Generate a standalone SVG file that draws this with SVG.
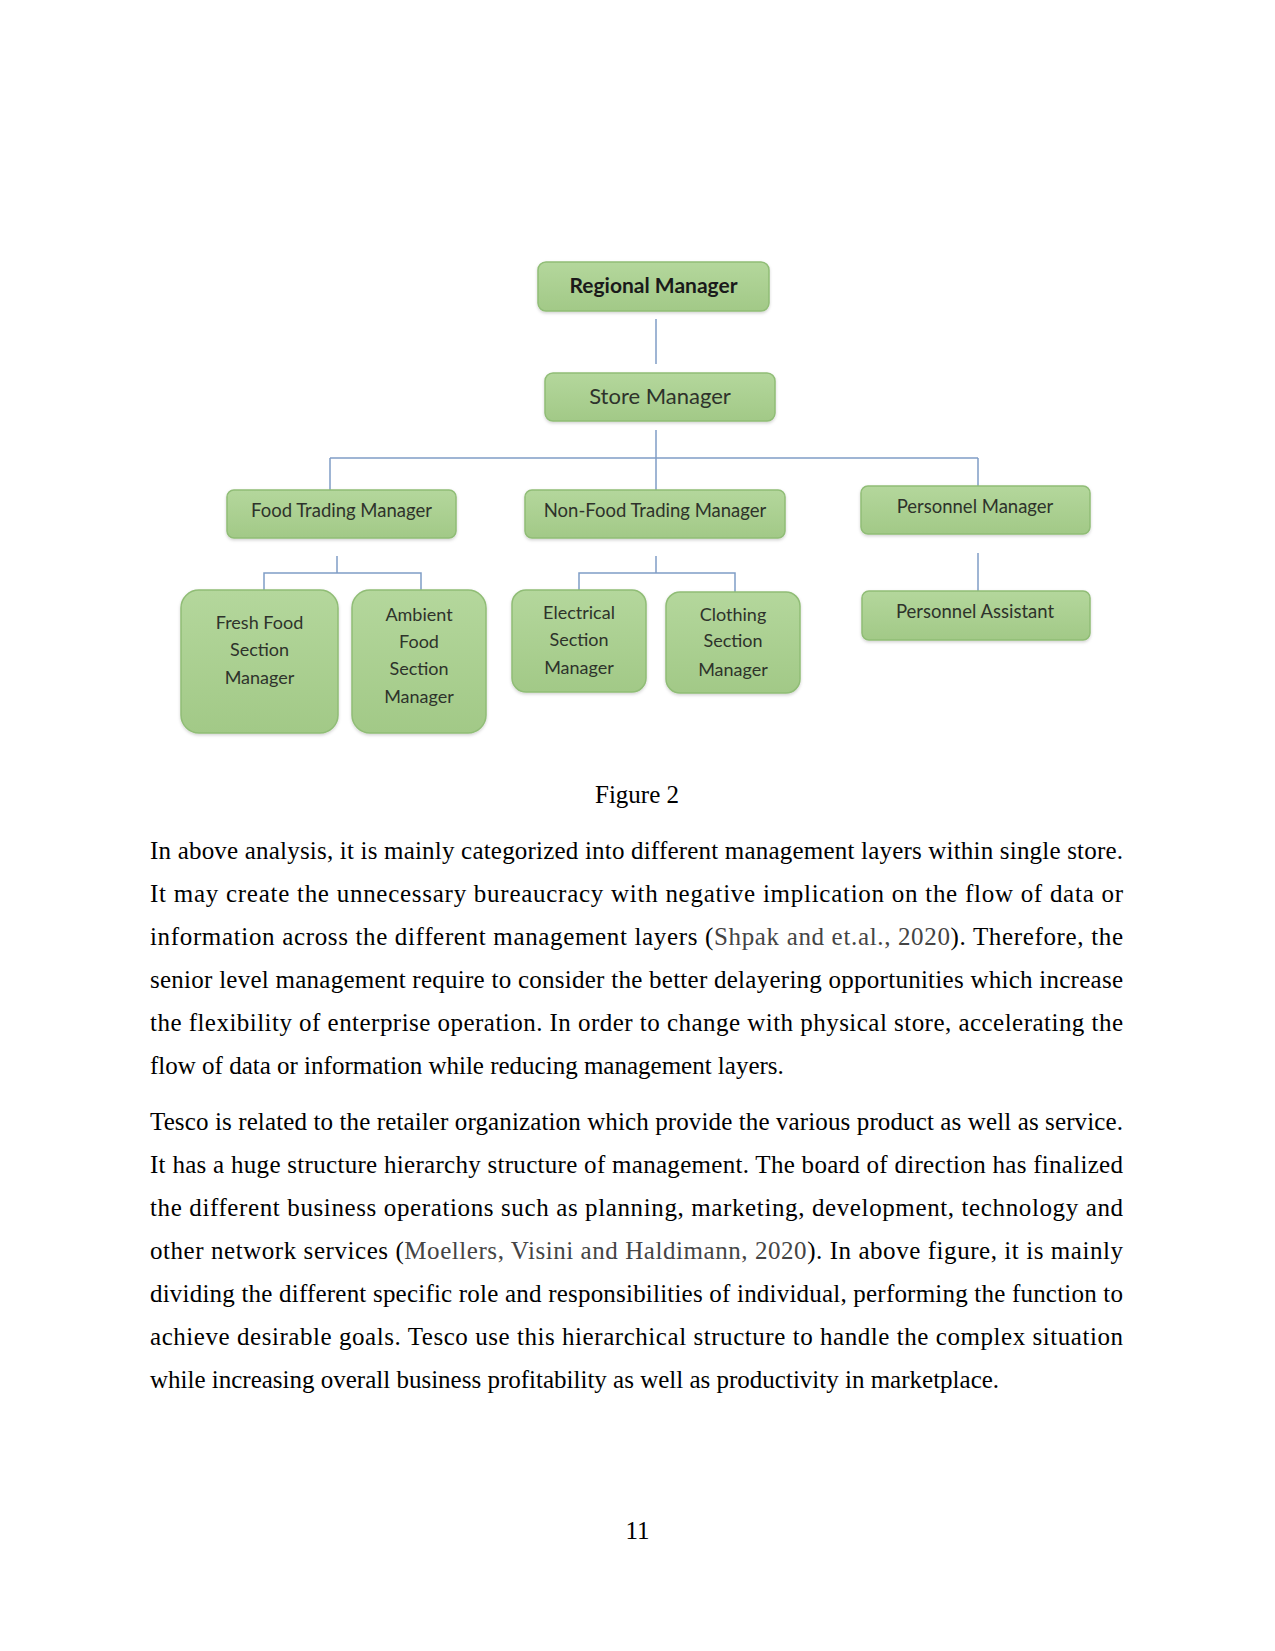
<svg xmlns="http://www.w3.org/2000/svg" width="1275" height="1651" viewBox="0 0 1275 1651">
<defs>
<linearGradient id="g" x1="0" y1="0" x2="0" y2="1">
<stop offset="0" stop-color="#b4d79c"/>
<stop offset="1" stop-color="#a2c987"/>
</linearGradient>
<filter id="sh" x="-10%" y="-10%" width="120%" height="130%">
<feDropShadow dx="0" dy="1.5" stdDeviation="1.5" flood-color="#000" flood-opacity="0.18"/>
</filter>
</defs>
<style>
.box{fill:url(#g);stroke:#90bd76;stroke-width:1.5;filter:url(#sh)}
.lbl{font-family:Lato,"Open Sans",sans-serif;font-size:18px;fill:#2e332b;text-anchor:middle}
.b{font-weight:bold;fill:#1a1a1a;font-size:21px}
.l2{font-size:18.5px}
.sm{font-size:22px}
.con{stroke:#7f9dc6;stroke-width:1.5;fill:none}
.body{font-family:"Liberation Serif","Times New Roman",serif;font-size:25px;fill:#000}
.cite{fill:#444}
</style>
<rect width="1275" height="1651" fill="#fff"/>
<g id="connectors">
<line class="con" x1="656" y1="319" x2="656" y2="364"/>
<line class="con" x1="656" y1="430" x2="656" y2="490"/>
<line class="con" x1="330" y1="458" x2="978" y2="458"/>
<line class="con" x1="330" y1="458" x2="330" y2="490"/>
<line class="con" x1="978" y1="458" x2="978" y2="486"/>
<polyline class="con" points="264,590 264,573 421,573 421,590"/>
<line class="con" x1="337" y1="556" x2="337" y2="573"/>
<polyline class="con" points="579,590 579,573 735,573 735,592"/>
<line class="con" x1="656" y1="556" x2="656" y2="573"/>
<line class="con" x1="978" y1="553" x2="978" y2="591"/>
</g>
<g id="regional-manager">
<rect class="box" x="538" y="262" width="231" height="49" rx="8"/>
<text class="lbl b" x="653.5" y="293">Regional Manager</text>
</g>
<g id="store-manager">
<rect class="box" x="545" y="373" width="230" height="48" rx="8"/>
<text class="lbl sm" x="660" y="404">Store Manager</text>
</g>
<g id="food-trading-manager">
<rect class="box" x="227" y="490" width="229" height="48" rx="7"/>
<text class="lbl l2" x="341.5" y="517">Food Trading Manager</text>
</g>
<g id="non-food-trading-manager">
<rect class="box" x="525" y="490" width="260" height="48" rx="7"/>
<text class="lbl l2" x="655" y="517">Non-Food Trading Manager</text>
</g>
<g id="personnel-manager">
<rect class="box" x="861" y="486" width="229" height="48" rx="7"/>
<text class="lbl l2" x="975" y="513">Personnel Manager</text>
</g>
<g id="fresh-food-section-manager">
<rect class="box" x="181" y="590" width="157" height="143" rx="18"/>
<text class="lbl" x="259.5" y="629">Fresh Food</text>
<text class="lbl" x="259.5" y="656">Section</text>
<text class="lbl" x="259.5" y="684">Manager</text>
</g>
<g id="ambient-food-section-manager">
<rect class="box" x="352" y="590" width="134" height="143" rx="18"/>
<text class="lbl" x="419" y="621">Ambient</text>
<text class="lbl" x="419" y="648">Food</text>
<text class="lbl" x="419" y="675">Section</text>
<text class="lbl" x="419" y="703">Manager</text>
</g>
<g id="electrical-section-manager">
<rect class="box" x="512" y="590" width="134" height="102" rx="14"/>
<text class="lbl" x="579" y="619">Electrical</text>
<text class="lbl" x="579" y="646">Section</text>
<text class="lbl" x="579" y="674">Manager</text>
</g>
<g id="clothing-section-manager">
<rect class="box" x="666" y="592" width="134" height="101" rx="14"/>
<text class="lbl" x="733" y="621">Clothing</text>
<text class="lbl" x="733" y="647">Section</text>
<text class="lbl" x="733" y="676">Manager</text>
</g>
<g id="personnel-assistant">
<rect class="box" x="862" y="591" width="228" height="49" rx="7"/>
<text class="lbl l2" x="975" y="618">Personnel Assistant</text>
</g>
<g id="text">
<text class="body" x="637" y="803" text-anchor="middle">Figure 2</text>
<text class="body" x="150" y="859" textLength="973" lengthAdjust="spacing">In above analysis, it is mainly categorized into different management layers within single store.</text>
<text class="body" x="150" y="902" textLength="973" lengthAdjust="spacing">It may create the unnecessary bureaucracy with negative implication on the flow of data or</text>
<text class="body" x="150" y="945" textLength="973" lengthAdjust="spacing">information across the different management layers (<tspan class="cite">Shpak and et.al., 2020</tspan>). Therefore, the</text>
<text class="body" x="150" y="988" textLength="973" lengthAdjust="spacing">senior level management require to consider the better delayering opportunities which increase</text>
<text class="body" x="150" y="1031" textLength="973" lengthAdjust="spacing">the flexibility of enterprise operation. In order to change with physical store, accelerating the</text>
<text class="body" x="150" y="1074">flow of data or information while reducing management layers.</text>
<text class="body" x="150" y="1130" textLength="973" lengthAdjust="spacing">Tesco is related to the retailer organization which provide the various product as well as service.</text>
<text class="body" x="150" y="1173" textLength="973" lengthAdjust="spacing">It has a huge structure hierarchy structure of management. The board of direction has finalized</text>
<text class="body" x="150" y="1216" textLength="973" lengthAdjust="spacing">the different business operations such as planning, marketing, development, technology and</text>
<text class="body" x="150" y="1259" textLength="973" lengthAdjust="spacing">other network services (<tspan class="cite">Moellers, Visini and Haldimann, 2020</tspan>). In above figure, it is mainly</text>
<text class="body" x="150" y="1302" textLength="973" lengthAdjust="spacing">dividing the different specific role and responsibilities of individual, performing the function to</text>
<text class="body" x="150" y="1345" textLength="973" lengthAdjust="spacing">achieve desirable goals. Tesco use this hierarchical structure to handle the complex situation</text>
<text class="body" x="150" y="1388">while increasing overall business profitability as well as productivity in marketplace.</text>
<text class="body" x="637.5" y="1539" text-anchor="middle">11</text>
</g>
</svg>
